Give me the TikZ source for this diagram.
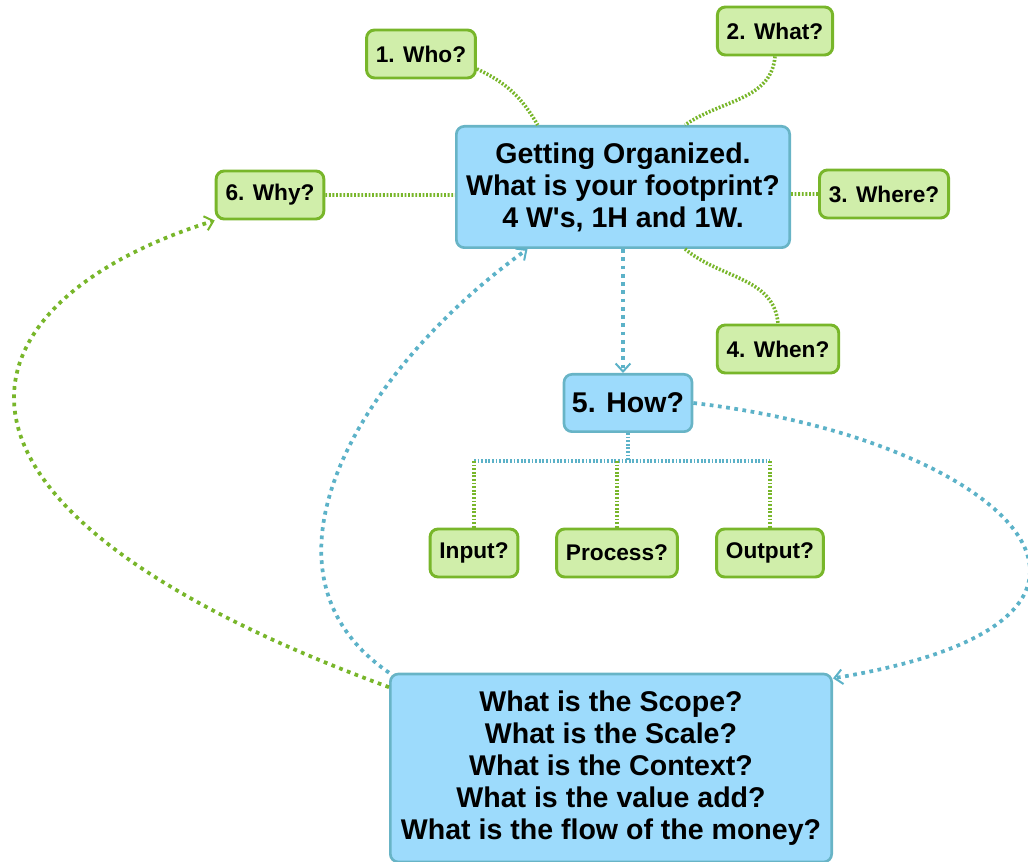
\documentclass[tikz,border=0pt]{standalone}
\usepackage{fontspec}
\newfontfamily\boxfont{Liberation Sans}
\usetikzlibrary{arrows.meta}
\definecolor{bluefill}{RGB}{157,219,252}
\definecolor{blueline}{RGB}{104,180,198}
\definecolor{bluedot}{RGB}{92,178,200}
\definecolor{greenfill}{RGB}{208,238,170}
\definecolor{greenline}{RGB}{120,182,42}
\tikzset{
    >={Straight Barb[length=6pt,width=11pt,line width=1.5pt]}, % Default arrow tip
    bluebox/.style={draw=blueline, fill=bluefill, line width=2pt, rounded corners=6pt,
        align=center, font=\boxfont\fontsize{21.4}{24}\selectfont\bfseries},
    greenbox/.style={draw=greenline, fill=greenfill, line width=2.2pt, rounded corners=6pt,
        minimum height=36pt, inner xsep=7pt, font=\boxfont\fontsize{17}{20}\selectfont\bfseries},
    shortgreen/.style={draw=greenline, line width=2.7pt, dash pattern=on 1.4pt off 1.3pt},
    shortblue/.style={draw=bluedot, line width=2.7pt, dash pattern=on 1.4pt off 1.3pt},
    longgreen/.style={draw=greenline, line width=2.8pt, dash pattern=on 2.8pt off 3.4pt},
    longblue/.style={draw=bluedot, line width=2.8pt, dash pattern=on 2.8pt off 3.4pt}
}

\begin{document}
\begin{tikzpicture}[x=0.75pt, y=-0.75pt]
    \useasboundingbox (0, 0) rectangle (1028, 862);
    % centre boxes
    \draw
        node (main) [bluebox, minimum width=250pt, minimum height=91pt] at (623, 187)
            {Getting Organized.\\What is your footprint?\\4 W's, 1H and 1W.}
        node (how) [bluebox, minimum width=96pt, minimum height=43pt] at (628, 403) {5. How?}
        node (bottom) [bluebox, minimum width=331pt, minimum height=141pt] at (611, 768)
            {What is the Scope?\\What is the Scale?\\What is the Context?\\What is the value add?\\What is the flow of the money?}
    ;
    % the W's
    \draw
        node (who) [greenbox] at (421, 54) {1. Who?}
        node (what) [greenbox] at (775, 31) {2. What?}
        node (where) [greenbox] at (884, 194) {3. Where?}
        node (when) [greenbox] at (778, 349) {4. When?}
        node (why) [greenbox] at (270, 195) {6. Why?}
        node (input) [greenbox] at (474, 553) {Input?}
        node (process) [greenbox] at (617, 553) {Process?}
        node (output) [greenbox] at (770, 553) {Output?}
    ;
    \coordinate (join) at (how.south |- 0, 461);
    \draw
        [shortgreen]
        (who.-15) to[out=-25, in=120] (main.144)
        (what.south) to[out=-95, in=35] (main.45)
        (where.west -| main.east) -- (where.west)
        (main.-45) to[out=-40, in=95] (when.north)
        (why.east) -- (why.east -| main.west)
    ;
    \draw
        [shortblue]
        (how.south) -- (join)
        (input.north |- join) -- (output.north |- join)
    ;
    \draw
        [shortgreen]
        (input.north |- join) -- (input.north)
        (process.north |- join) -- (process.north)
        (output.north |- join) -- (output.north)
    ;
    \draw
        [longblue, ->]
        (main.south) -- (main.south |- how.north)
    ;
    \draw
        [longblue, ->]
        (how.east) .. controls (1010, 440) and (1190, 620) .. (bottom.22)
    ;
    \draw
        [longblue, ->]
        (bottom.north west) .. controls (240, 570) and (360, 370) .. (main.213)
    ;
    \draw
        [longgreen, ->]
        (bottom.160) .. controls (-120, 500) and (-40, 300) .. (why.south west)
    ;
\end{tikzpicture}
\end{document}
